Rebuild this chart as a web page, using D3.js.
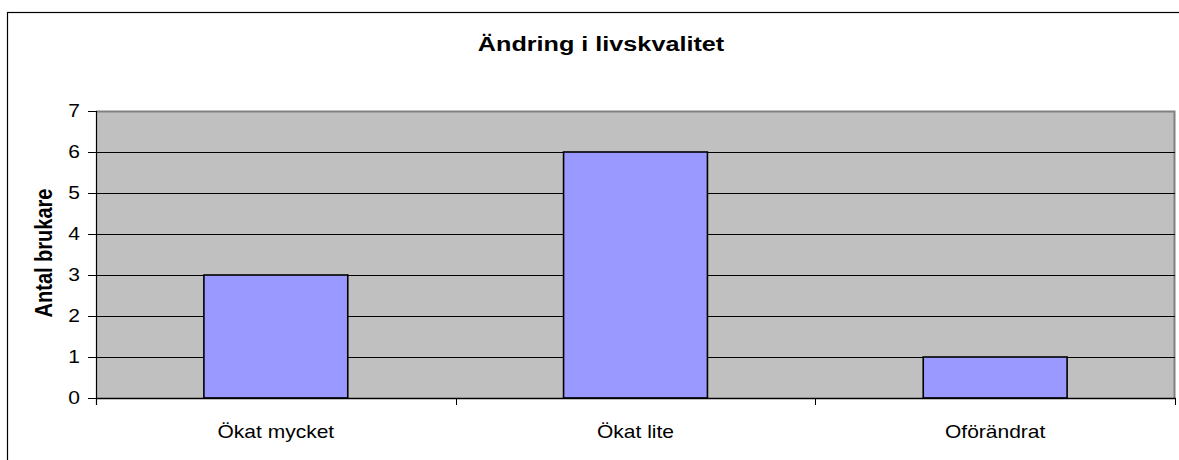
<!DOCTYPE html>
<html>
<head>
<meta charset="utf-8">
<script src="https://cdn.jsdelivr.net/npm/d3@7"></script>
<style>
  body { margin: 0; background: #fff; }
  text { font-family: Arial, "Liberation Sans", sans-serif; fill: #000; }
</style>
</head>
<body>
<div id="chart"></div>
<script>
  // data
  var categories = ["Ökat mycket", "Ökat lite", "Oförändrat"];
  var values = [3, 6, 1];
  var yTicks = [0, 1, 2, 3, 4, 5, 6, 7];
  var title = "Ändring i livskvalitet";
  var yTitle = "Antal brukare";

  var W = 1179, H = 460;
  var sx = 1.2; // text looks stretched sideways in the original
  var svg = d3.select("#chart").append("svg").attr("width", W).attr("height", H);

  // outer frame
  svg.append("rect")
    .attr("x", 7.5).attr("y", 12.5)
    .attr("width", W + 10).attr("height", H + 10)
    .attr("fill", "#fff").attr("stroke", "#000").attr("stroke-width", 1.2);

  var pLeft = 96, pRight = 1175, pTop = 111, pBottom = 398;

  var x = d3.scaleBand().domain(categories).range([pLeft, pRight]);
  var y = d3.scaleLinear().domain([0, 7]).range([pBottom, pTop]);

  // plot area
  svg.append("rect")
    .attr("x", pLeft).attr("y", pTop)
    .attr("width", pRight - pLeft).attr("height", pBottom - pTop)
    .attr("fill", "#c0c0c0");
  svg.append("path")
    .attr("d", "M" + pLeft + "," + (pTop + 0.5) + "H" + (pRight - 0.5) + "V" + pBottom)
    .attr("fill", "none").attr("stroke", "#808080").attr("stroke-width", 2);

  // gridlines
  svg.selectAll("line.grid")
    .data(yTicks.filter(function (d) { return d > 0 && d < 7; }))
    .enter().append("line")
      .attr("class", "grid")
      .attr("x1", pLeft).attr("x2", pRight)
      .attr("y1", function (d) { return Math.round(y(d)) + 0.5; })
      .attr("y2", function (d) { return Math.round(y(d)) + 0.5; })
      .attr("stroke", "#000").attr("stroke-width", 1);

  // bars
  var bw = x.bandwidth() * 0.4;
  svg.selectAll("rect.bar")
    .data(values)
    .enter().append("rect")
      .attr("class", "bar")
      .attr("x", function (d, i) { return x(categories[i]) + x.bandwidth() / 2 - bw / 2; })
      .attr("y", function (d) { return y(d); })
      .attr("width", bw)
      .attr("height", function (d) { return y(0) - y(d); })
      .attr("fill", "#9999ff")
      .attr("stroke", "#000").attr("stroke-width", 1.6);

  // y axis
  svg.append("line")
    .attr("x1", pLeft + 0.5).attr("x2", pLeft + 0.5)
    .attr("y1", pTop).attr("y2", pBottom + 7)
    .attr("stroke", "#000").attr("stroke-width", 1.2);
  svg.selectAll("line.ytick")
    .data(yTicks)
    .enter().append("line")
      .attr("x1", pLeft - 8).attr("x2", pLeft)
      .attr("y1", function (d) { return Math.round(y(d)) + 0.5; })
      .attr("y2", function (d) { return Math.round(y(d)) + 0.5; })
      .attr("stroke", "#000");
  svg.selectAll("text.ylab")
    .data(yTicks)
    .enter().append("text")
      .attr("text-anchor", "end")
      .attr("dy", "0.36em")
      .attr("font-size", "17.5px")
      .attr("transform", function (d) { return "translate(80," + y(d) + ") scale(" + sx + ",1)"; })
      .text(function (d) { return d; });

  // x axis
  svg.append("line")
    .attr("x1", pLeft).attr("x2", pRight + 1)
    .attr("y1", pBottom + 0.5).attr("y2", pBottom + 0.5)
    .attr("stroke", "#000").attr("stroke-width", 1.4);
  var bounds = categories.map(function (c) { return x(c); }).concat([pRight]);
  svg.selectAll("line.xtick")
    .data(bounds)
    .enter().append("line")
      .attr("x1", function (d) { return Math.round(d) + 0.5; })
      .attr("x2", function (d) { return Math.round(d) + 0.5; })
      .attr("y1", pBottom).attr("y2", pBottom + 7)
      .attr("stroke", "#000");
  svg.selectAll("text.xlab")
    .data(categories)
    .enter().append("text")
      .attr("text-anchor", "middle")
      .attr("font-size", "17.5px")
      .attr("transform", function (d) { return "translate(" + (x(d) + x.bandwidth() / 2) + ",438) scale(" + sx + ",1)"; })
      .text(function (d) { return d; });

  // titles
  svg.append("text")
    .attr("text-anchor", "middle")
    .attr("font-size", "21px").attr("font-weight", "bold")
    .attr("transform", "translate(601,51) scale(" + sx + ",1)")
    .text(title);
  svg.append("text")
    .attr("text-anchor", "middle")
    .attr("font-size", "20px").attr("font-weight", "bold")
    .attr("transform", "translate(52,253) scale(" + sx + ",1) rotate(-90)")
    .text(yTitle);
</script>
</body>
</html>
